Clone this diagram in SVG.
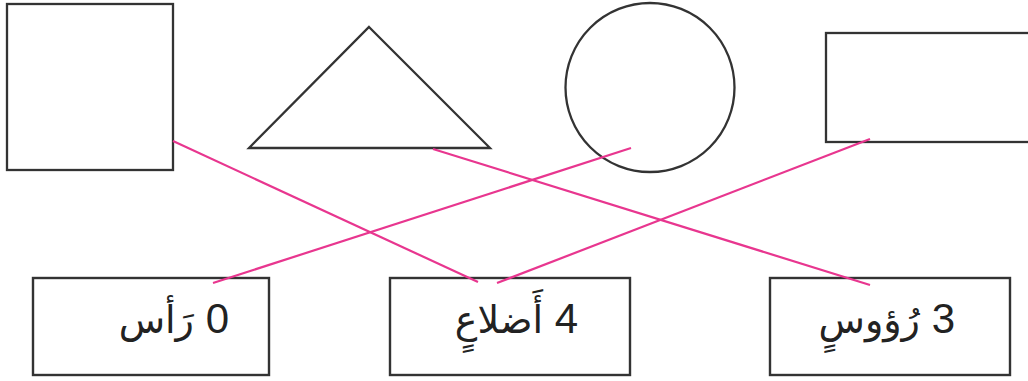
<svg xmlns="http://www.w3.org/2000/svg" width="1028" height="381" viewBox="0 0 1028 381">
<style>
.shape{fill:#fff;stroke:#333;stroke-width:2.3}
.box{fill:#fff;stroke:#333;stroke-width:2.4}
.link{stroke:#e8368f;stroke-width:2.2;fill:none}
.lbl{font-family:"Liberation Sans","DejaVu Sans",sans-serif;font-size:42px;fill:#222}
.ar{font-family:"DejaVu Sans",sans-serif;font-size:38px}
</style>
<rect width="1028" height="381" fill="#fff"/>
<g id="square"><rect class="shape" x="7" y="4" width="166" height="166"/></g>
<g id="triangle"><polygon class="shape" points="369,27 490,148 249,148" stroke-linejoin="miter"/></g>
<g id="circle"><circle class="shape" cx="650" cy="87.5" r="84.5"/></g>
<g id="rectangle"><rect class="shape" x="826" y="33" width="210" height="109"/></g>
<g id="box-vertex0"><rect class="box" x="33" y="278" width="236" height="97"/>
<text class="lbl" x="229" y="333" direction="rtl" text-anchor="start">0 <tspan class="ar">رَأس</tspan></text></g>
<g id="box-sides4"><rect class="box" x="390" y="278" width="240" height="97"/>
<text class="lbl" x="578" y="333" direction="rtl" text-anchor="start">4 <tspan class="ar">أَضلاعٍ</tspan></text></g>
<g id="box-vertices3"><rect class="box" x="770" y="278" width="240" height="97"/>
<text class="lbl" x="955" y="333" direction="rtl" text-anchor="start">3 <tspan class="ar">رُؤوسٍ</tspan></text></g>
<g id="connectors">
<line class="link" x1="173" y1="141" x2="478" y2="282"/>
<line class="link" x1="433" y1="149" x2="870" y2="285"/>
<line class="link" x1="631" y1="148" x2="213" y2="283"/>
<line class="link" x1="870" y1="139" x2="497" y2="283"/>
</g>
</svg>
